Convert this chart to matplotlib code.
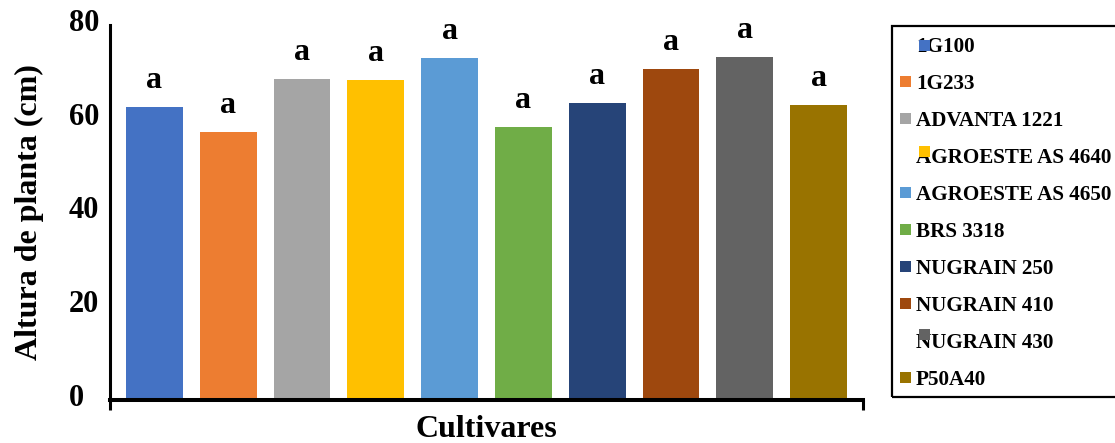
import matplotlib
matplotlib.use("Agg")
import matplotlib.pyplot as plt
import matplotlib.transforms as mtransforms
from matplotlib.patches import Rectangle

plt.rcParams['font.family'] = ['Liberation Serif', 'DejaVu Serif']
plt.rcParams['font.weight'] = 'bold'

# --- data ---
cultivares = ['1G100', '1G233', 'ADVANTA 1221', 'AGROESTE AS 4640', 'AGROESTE AS 4650',
              'BRS 3318', 'NUGRAIN 250', 'NUGRAIN 410', 'NUGRAIN 430', 'P50A40']
altura = [62.5, 57.2, 68.5, 68.3, 73.0, 58.2, 63.4, 70.6, 73.2, 63.0]
letras = ['a'] * 10
cores = ['#4472C4', '#ED7D31', '#A5A5A5', '#FFC000', '#5B9BD5',
         '#70AD47', '#264478', '#9E480E', '#636363', '#997300']
yticks = [0, 20, 40, 60, 80]

W, H = 1115, 443
fig = plt.figure(figsize=(W / 100, H / 100), dpi=100)
ax = fig.add_axes([110 / W, 43 / H, (863 - 110) / W, (400 - 25) / H])

x = range(len(cultivares))
ax.bar(x, altura, width=0.77, color=cores)
for i, (v, l) in enumerate(zip(altura, letras)):
    ax.annotate(l, xy=(i, v), xytext=(0, 13.7), textcoords='offset points',
                ha='center', va='baseline', fontsize=23, fontweight='bold')

ax.set_xlim(-0.6, 9.6)
ax.set_ylim(0, 80)
ax.spines['top'].set_visible(False)
ax.spines['right'].set_visible(False)
ax.spines['left'].set_linewidth(2.2)
ax.spines['bottom'].set_linewidth(2.9)

ax.set_xticks([-0.6, 9.6])
ax.set_xticklabels(['', ''])
ax.tick_params(axis='x', length=7.2, width=2.2, direction='out')

ax.set_yticks(yticks)
ax.set_yticklabels([str(t) for t in yticks], fontsize=22, fontweight='bold')
ax.tick_params(axis='y', length=0, pad=29.5)
shift = mtransforms.ScaledTranslation(0, 0.05, fig.dpi_scale_trans)
for lab in ax.get_yticklabels():
    lab.set_ha('left')
    lab.set_transform(lab.get_transform() + shift)

ax.set_xlabel('Cultivares', fontsize=23, fontweight='bold', va='baseline')
ax.xaxis.set_label_coords(0.5, -0.0987)
ax.set_ylabel('Altura de planta (cm)', fontsize=23, fontweight='bold', va='center')
ax.yaxis.set_label_coords(-0.1076, 0.5)

# --- legend (drawn by hand to match the original layout) ---
fig.add_artist(Rectangle((892 / W, 1 - 397 / H), 0.3, (397 - 26) / H,
                         transform=fig.transFigure, fill=False, lw=1.6,
                         edgecolor='black', clip_on=False))
marker_shift = {0: (19, 1), 3: (19, -3.5), 8: (19, -6)}
for i, (nome, c) in enumerate(zip(cultivares, cores)):
    yc = 44 + 37.1 * i
    fig.text(916 / W, 1 - yc / H, nome, ha='left', va='center_baseline',
             fontsize=15.2, fontweight='bold', zorder=3)
    dx, dy = marker_shift.get(i, (0, 0))
    mx, my = 900 + dx, yc + dy
    fig.add_artist(Rectangle((mx / W, 1 - (my + 5.5) / H), 11 / W, 11 / H,
                             transform=fig.transFigure, color=c, lw=0, zorder=4))

fig.savefig('out.png', dpi=100)
